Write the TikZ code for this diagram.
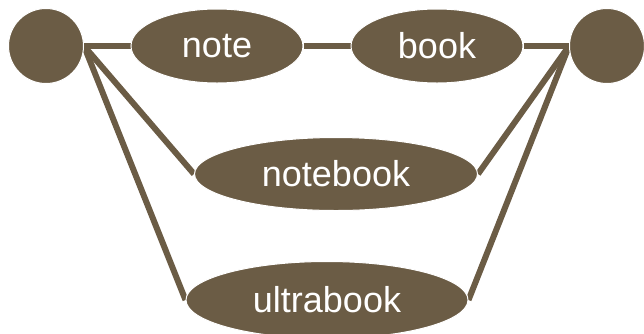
\documentclass[tikz,border=0pt]{standalone}
\usepackage{fontspec}
\setmainfont{Liberation Sans}
\usetikzlibrary{shapes.geometric,backgrounds}
\definecolor{olive}{HTML}{6B5C45}
\begin{document}
\begin{tikzpicture}[x=1pt,y=-1pt,
  term/.style={circle,fill=olive,draw=white,line width=1pt,minimum size=75pt,inner sep=0pt},
  word/.style={ellipse,fill=olive,draw=white,line width=1pt,inner sep=0pt,text=white,font=\fontsize{36}{40}\selectfont},
  link/.style={draw=olive,line width=6pt}]
\useasboundingbox (0,0) rectangle (644,333);
\node[term] (s) at (46,46) {};
\node[term] (t) at (607,46) {};
\node[word,minimum width=172pt,minimum height=74pt] (note) at (217,46) {note};
\node[word,minimum width=172pt,minimum height=74pt] (book) at (437,46) {book};
\node[word,minimum width=283pt,minimum height=73pt] (nb) at (336,174) {notebook};
\node[word,minimum width=282pt,minimum height=77pt] (ub) at (327,300) {ultrabook};
\begin{scope}[on background layer]
\draw[link] (s.east) -- (note.west);
\draw[link] (note.east) -- (book.west);
\draw[link] (book.east) -- (t.west);
\draw[link] (s.east) -- (nb.west);
\draw[link] (s.east) -- (ub.west);
\draw[link] (t.west) -- (nb.east);
\draw[link] (t.west) -- (ub.east);
\end{scope}
\end{tikzpicture}
\end{document}
